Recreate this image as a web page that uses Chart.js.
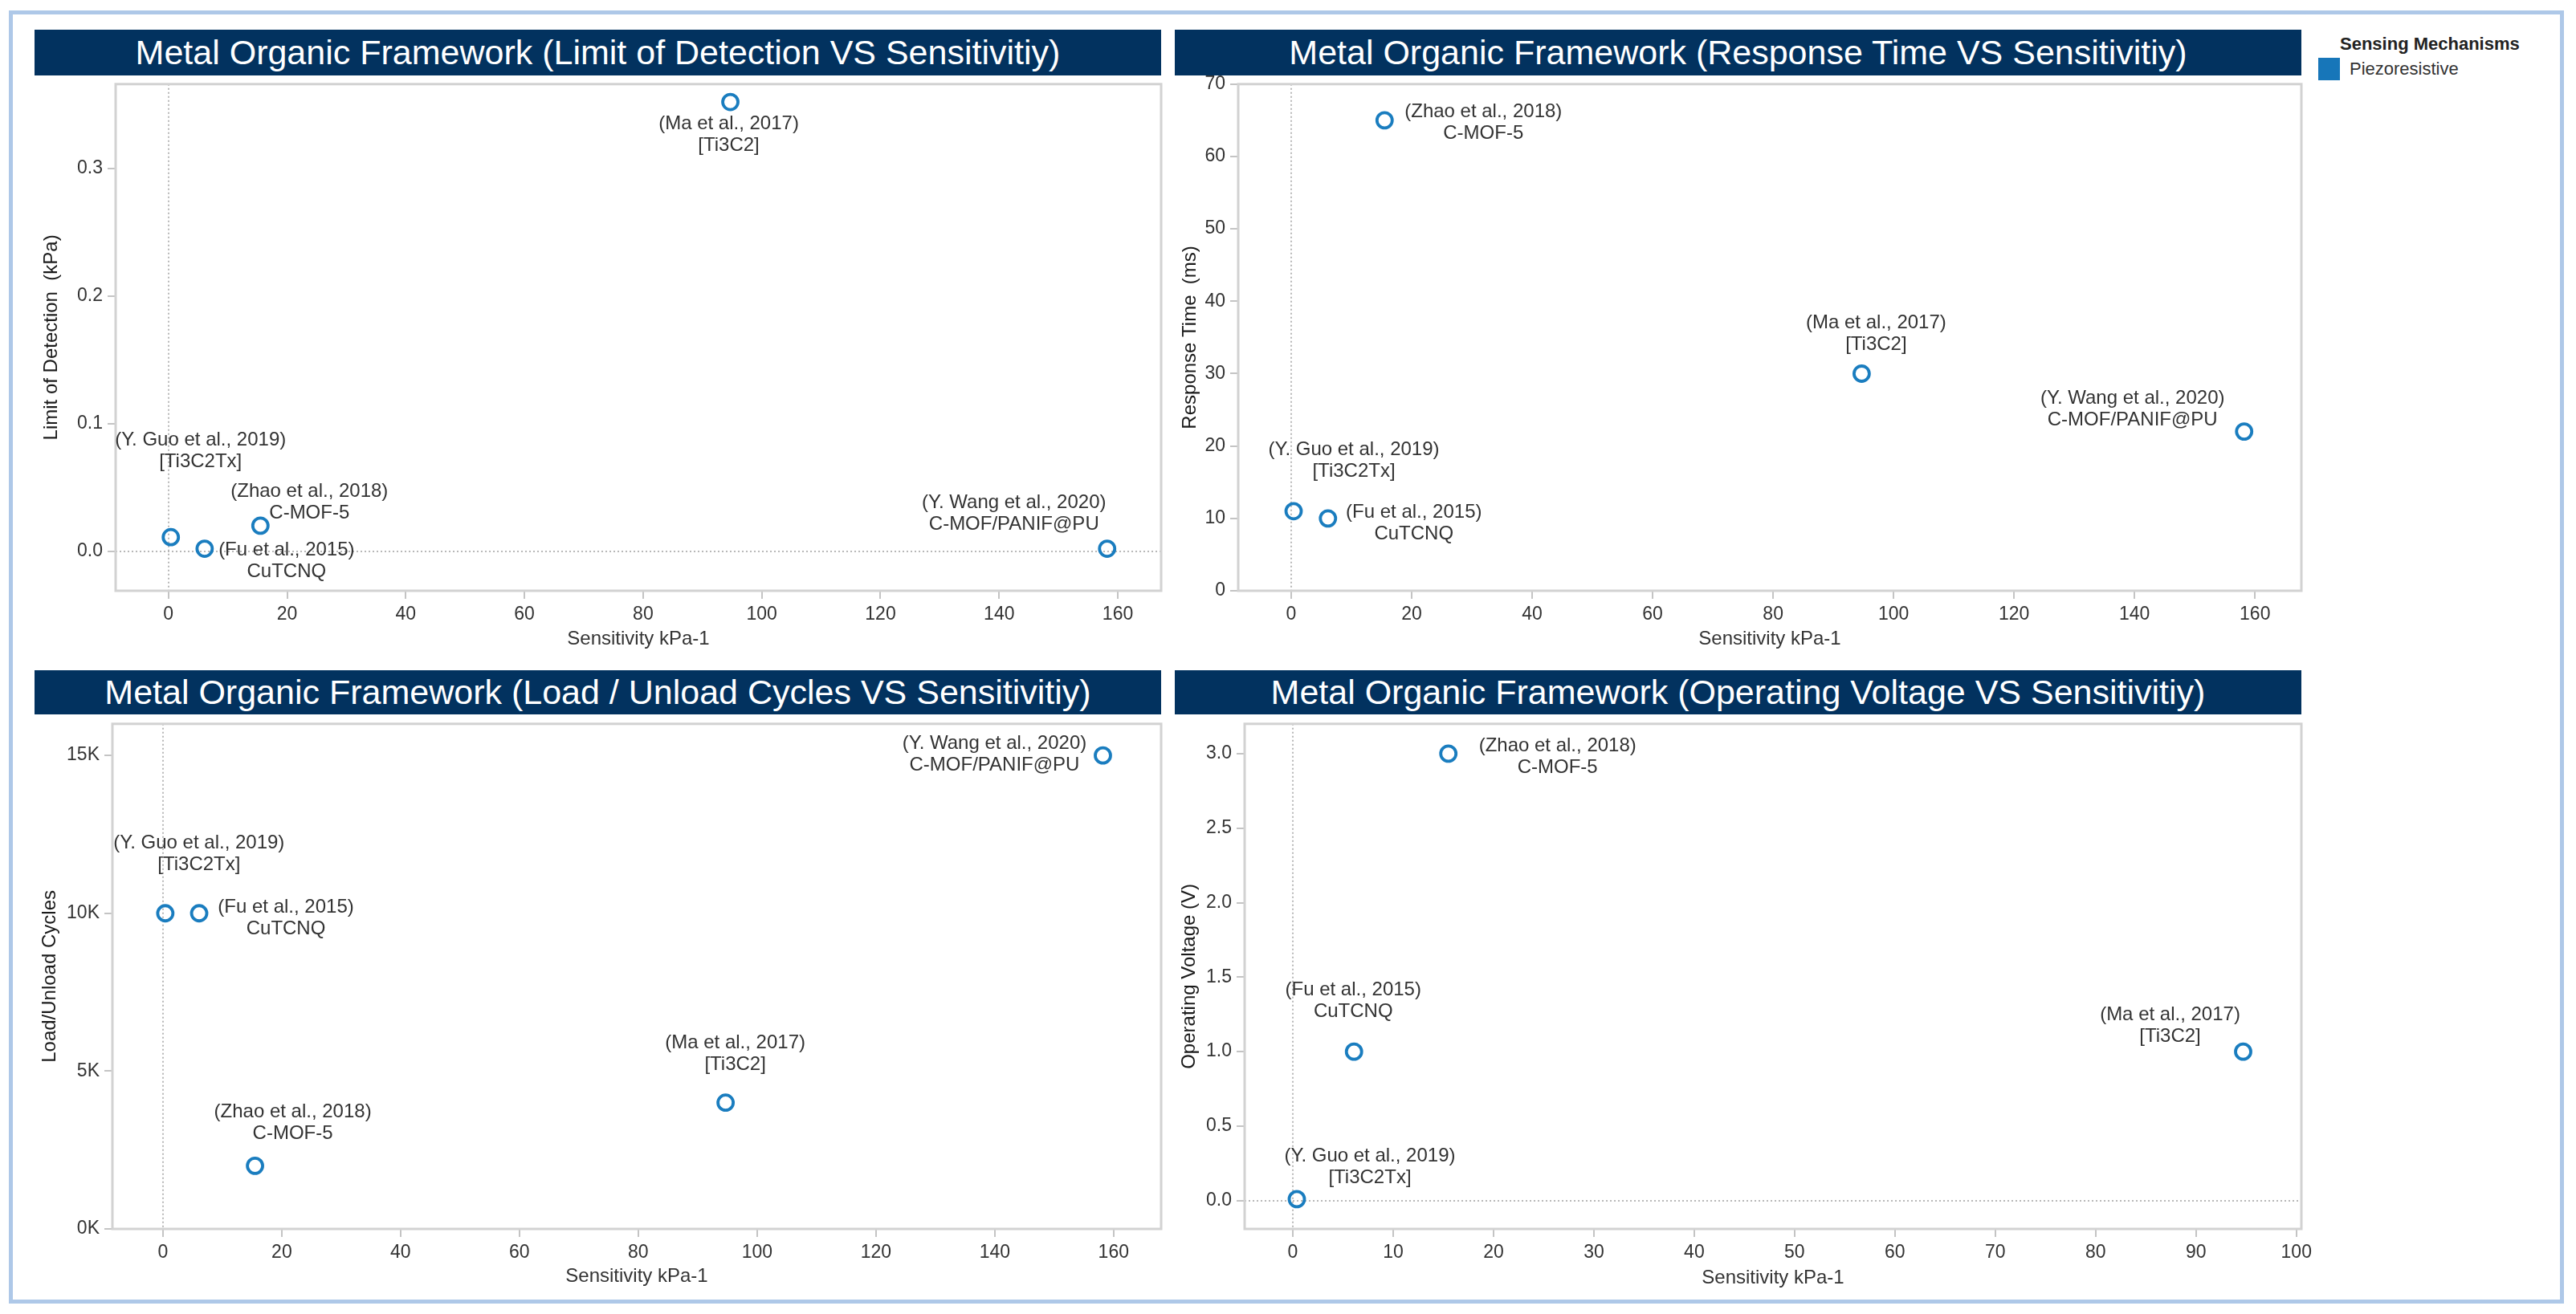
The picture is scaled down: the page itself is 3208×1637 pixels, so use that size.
<!DOCTYPE html>
<html>
<head>
<meta charset="utf-8">
<script src="https://cdn.jsdelivr.net/npm/chart.js@4.4.1/dist/chart.umd.min.js"></script>
<style>
  body { margin: 0; background: #fff; width: 3208px; height: 1637px; position: relative; overflow: hidden;
         font-family: "Liberation Sans", Arial, sans-serif; }
  .frame { position: absolute; left: 11px; top: 13px; width: 3182px; height: 1611px;
           border: 5px solid #aec8e8; box-sizing: border-box; }
  .bar { position: absolute; background: #02325f; color: #fff; font-size: 43px;
         display: flex; align-items: center; justify-content: center; white-space: nowrap; }
  canvas { position: absolute; }
  .lg-title { position: absolute; left: 2914px; top: 42px; font-size: 22px; font-weight: bold; color: #222; }
  .lg-box { position: absolute; left: 2887px; top: 72px; width: 27px; height: 28px; background: #1776b9; }
  .lg-item { position: absolute; left: 2926px; top: 73px; font-size: 22px; color: #333; }
</style>
</head>
<body>
<div class="frame"></div>
<div class="lg-title">Sensing Mechanisms</div>
<div class="lg-box"></div>
<div class="lg-item">Piezoresistive</div>

<script>
// ---- data ----
const studies = ["(Y. Guo et al., 2019)", "(Fu et al., 2015)", "(Zhao et al., 2018)", "(Ma et al., 2017)", "(Y. Wang et al., 2020)"];
const materials = ["[Ti3C2Tx]", "CuTCNQ", "C-MOF-5", "[Ti3C2]", "C-MOF/PANIF@PU"];
const sensitivity = [0.4, 6.1, 15.5, 94.7, 158.2];
const limitOfDetection = [0.011, 0.002, 0.02, 0.352, 0.002];
const responseTime = [11, 10, 65, 30, 22];
const loadCycles = [10000, 10000, 2000, 4000, 15000];
const operatingVoltage = [0.01, 1, 3, 1, null];

// tick values
const sensTicks = [0, 20, 40, 60, 80, 100, 120, 140, 160];
const sensTicksShort = [0, 10, 20, 30, 40, 50, 60, 70, 80, 90, 100];
const lodTicks = [0, 0.1, 0.2, 0.3];
const respTicks = [0, 10, 20, 30, 40, 50, 60, 70];
const cycleTicks = [0, 5000, 10000, 15000];
const voltTicks = [0, 0.5, 1, 1.5, 2, 2.5, 3];

const POINT_COLOR = "#1a7dbf";
const FONT = '"Liberation Sans", Arial, sans-serif';

// layout of the four panels (pixels on the page), label offsets relative to each point
const panels = [
  {
    title: "Metal Organic Framework (Limit of Detection VS Sensitivitiy)",
    yTitle: "Limit of Detection  (kPa)", values: limitOfDetection,
    bar: [43, 37, 1446, 94], plot: [144, 101, 1446, 736], yTitleX: 64, xTitleY: 797,
    x: [-8.9, 167.3], xTicks: sensTicks, y: [-0.031, 0.366], yTicks: lodTicks, fmt: v => v.toFixed(1),
    offsets: [[37, -121], [102, 2], [61, -43], [-2, 27], [-116, -57]]
  },
  {
    title: "Metal Organic Framework (Response Time VS Sensitivitiy)",
    yTitle: "Response Time  (ms)", values: responseTime,
    bar: [1463, 37, 2866, 94], plot: [1542, 101, 2866, 736], yTitleX: 1482, xTitleY: 797,
    x: [-8.8, 167.7], xTicks: sensTicks, y: [0, 70], yTicks: respTicks, fmt: v => String(v),
    offsets: [[75, -76], [107, -7], [123, -11], [18, -63], [-139, -41]]
  },
  {
    title: "Metal Organic Framework (Load / Unload Cycles VS Sensitivitiy)",
    yTitle: "Load/Unload Cycles", values: loadCycles,
    bar: [43, 835, 1446, 890], plot: [140, 898, 1446, 1531], yTitleX: 62, xTitleY: 1591,
    x: [-8.5, 168], xTicks: sensTicks, y: [0, 16000], yTicks: cycleTicks, fmt: v => (v / 1000) + "K",
    offsets: [[42, -87], [108, -7], [47, -67], [12, -74], [-135, -15]]
  },
  {
    title: "Metal Organic Framework (Operating Voltage VS Sensitivitiy)",
    yTitle: "Operating Voltage (V)", values: operatingVoltage,
    bar: [1463, 835, 2866, 890], plot: [1550, 898, 2866, 1531], yTitleX: 1481, xTitleY: 1593,
    x: [-4.8, 100.5], xTicks: sensTicksShort, y: [-0.19, 3.2], yTicks: voltTicks, fmt: v => v.toFixed(1),
    offsets: [[91, -54], [-1, -77], [136, -10], [-91, -46], null]
  }
];

// plot border + point labels
const panelDecor = {
  id: "panelDecor",
  beforeDatasetsDraw(chart) {
    const { ctx, chartArea: a } = chart;
    ctx.save();
    ctx.strokeStyle = "#d2d2d2";
    ctx.lineWidth = 3;
    ctx.setLineDash([]);
    ctx.strokeRect(a.left, a.top, a.right - a.left, a.bottom - a.top);
    ctx.restore();
  },
  afterDatasetsDraw(chart, args, opts) {
    const { ctx } = chart;
    const pts = chart.getDatasetMeta(0).data;
    const rows = chart.data.datasets[0].data;
    ctx.save();
    ctx.font = "24px " + FONT;
    ctx.fillStyle = "#333";
    ctx.textAlign = "center";
    ctx.textBaseline = "middle";
    pts.forEach((pt, j) => {
      const i = rows[j].i;
      const off = opts.offsets[i];
      if (!off) return;
      ctx.fillText(studies[i], pt.x + off[0], pt.y + off[1]);
      ctx.fillText(materials[i], pt.x + off[0], pt.y + off[1] + 27);
    });
    ctx.restore();
  }
};

function zeroGrid(ctx) {
  return ctx.tick && ctx.tick.value === 0 ? "#b8b8b8" : "rgba(0,0,0,0)";
}

function buildPanel(p) {
  const bar = document.createElement("div");
  bar.className = "bar";
  bar.style.left = p.bar[0] + "px";
  bar.style.top = p.bar[1] + "px";
  bar.style.width = (p.bar[2] - p.bar[0]) + "px";
  bar.style.height = (p.bar[3] - p.bar[1]) + "px";
  bar.textContent = p.title;
  document.body.appendChild(bar);

  const [l, t, r, b] = p.plot;
  const padTop = 16, padRight = 40;
  const half = 24 * 1.2 / 2;
  const left = Math.round(p.yTitleX - half);
  const bottom = Math.round(p.xTitleY + half);
  const yw = l - left, xh = bottom - b;

  const cv = document.createElement("canvas");
  cv.width = r - left + padRight;
  cv.height = bottom - t + padTop;
  cv.style.left = left + "px";
  cv.style.top = (t - padTop) + "px";
  cv.style.width = cv.width + "px";
  cv.style.height = cv.height + "px";
  document.body.appendChild(cv);

  const points = sensitivity
    .map((x, i) => ({ x, y: p.values[i], i }))
    .filter(d => d.y !== null);

  const tickFont = { family: FONT, size: 23 };
  const titleFont = { family: FONT, size: 24 };
  const grid = {
    drawOnChartArea: true, color: zeroGrid, lineWidth: 2,
    drawTicks: true, tickLength: 10, tickColor: "#c4c4c4", tickWidth: 2, tickBorderDash: []
  };
  // in Chart.js v4 the grid line dash comes from border.dash; the solid frame is drawn by the plugin
  const border = { display: false, dash: [2, 3] };

  new Chart(cv, {
    type: "scatter",
    data: {
      datasets: [{
        data: points,
        borderColor: POINT_COLOR,
        backgroundColor: "rgba(0,0,0,0)",
        borderWidth: 3.8,
        pointRadius: 9.5,
        pointHoverRadius: 9.5
      }]
    },
    options: {
      responsive: false,
      animation: false,
      devicePixelRatio: 1,
      layout: { padding: { top: padTop, right: padRight, left: 0, bottom: 0 } },
      plugins: {
        legend: { display: false },
        tooltip: { enabled: false },
        panelDecor: { offsets: p.offsets }
      },
      scales: {
        x: {
          type: "linear", min: p.x[0], max: p.x[1],
          ticks: { autoSkip: false, maxRotation: 0, padding: 6, color: "#333", font: tickFont },
          afterBuildTicks(s) { s.ticks = p.xTicks.map(v => ({ value: v })); },
          grid: grid,
          border: border,
          title: { display: true, text: "Sensitivity kPa-1", color: "#333", font: titleFont,
                   padding: { top: 0, bottom: 0 } },
          afterFit(s) { s.height = xh; }
        },
        y: {
          type: "linear", min: p.y[0], max: p.y[1],
          ticks: { autoSkip: false, padding: 6, color: "#333", font: tickFont, callback: p.fmt },
          afterBuildTicks(s) { s.ticks = p.yTicks.map(v => ({ value: v })); },
          grid: grid,
          border: border,
          title: { display: true, text: p.yTitle, color: "#1a1a1a", font: titleFont,
                   padding: { top: 0, bottom: 0 } },
          afterFit(s) { s.width = yw; }
        }
      }
    },
    plugins: [panelDecor]
  });
}

panels.forEach(buildPanel);
</script>
</body>
</html>
